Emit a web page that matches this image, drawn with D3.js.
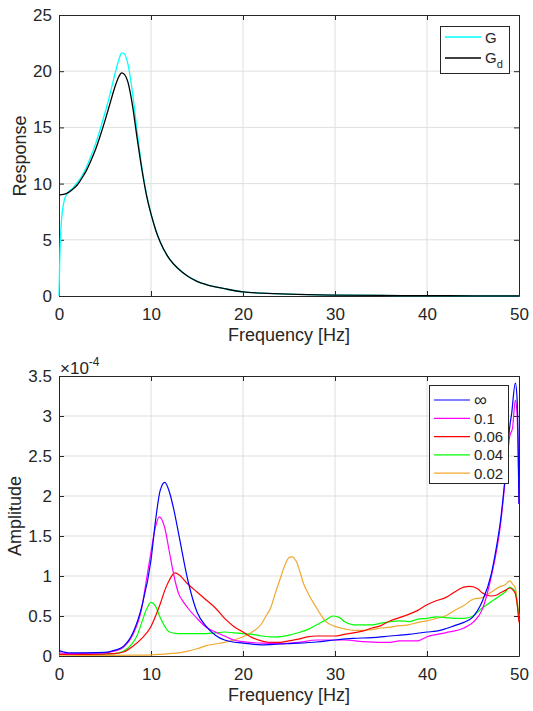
<!DOCTYPE html>
<html>
<head>
<meta charset="utf-8">
<script src="https://cdn.jsdelivr.net/npm/d3@7"></script>
<style>
  body { margin: 0; background: #fff; }
  text { font-family: "Liberation Sans", Arial, sans-serif; fill: #262626; }
</style>
</head>
<body>
<div id="chart"></div>
<script>
// ---- top panel data (Response vs Frequency) ----
const freqG  = [0, 0.05, 0.1, 0.2, 0.3, 0.45, 0.6, 0.8, 1, 1.5, 2, 2.5, 3, 3.5, 4, 4.5, 5, 5.5, 6, 6.5, 6.8, 7, 7.5, 8, 8.5, 9, 9.5, 10, 10.5, 11, 12, 13, 14, 15, 16, 17, 18, 20, 22, 25, 30, 35, 40, 45, 50];
const valG   = [0, 2, 3.8, 5.8, 7.0, 8.0, 8.6, 9.0, 9.25, 9.6, 10.1, 10.7, 11.5, 12.5, 13.6, 14.9, 16.3, 17.8, 19.5, 21.0, 21.6, 21.6, 20.6, 18.0, 14.6, 11.5, 9.1, 7.3, 5.9, 4.8, 3.3, 2.4, 1.75, 1.3, 1.02, 0.82, 0.65, 0.36, 0.26, 0.16, 0.08, 0.05, 0.03, 0.02, 0.015];
const freqGd = [0, 0.5, 1, 1.5, 2, 2.5, 3, 3.5, 4, 4.5, 5, 5.5, 6, 6.5, 6.8, 7, 7.5, 8, 8.5, 9, 9.5, 10, 10.5, 11, 12, 13, 14, 15, 16, 17, 18, 20, 22, 25, 30, 35, 40, 45, 50];
const valGd  = [9.0, 9.05, 9.2, 9.5, 9.9, 10.5, 11.2, 12.1, 13.1, 14.3, 15.6, 17.0, 18.4, 19.5, 19.85, 19.8, 19.0, 16.9, 14.0, 11.3, 9.0, 7.3, 5.9, 4.8, 3.3, 2.4, 1.75, 1.3, 1.02, 0.82, 0.65, 0.36, 0.26, 0.16, 0.08, 0.05, 0.03, 0.02, 0.015];

// ---- bottom panel data (Amplitude x1e-4 vs Frequency) ----
const freqInf = [0, 0.5, 1, 3, 5, 6, 7, 8, 9, 10, 10.5, 11, 11.5, 12, 12.5, 13, 14, 15, 16, 17, 18, 20, 22, 24, 26, 28, 30, 32, 34, 36, 38, 40, 41, 42, 43, 44, 45, 46, 47, 47.5, 48, 48.5, 49, 49.2, 49.6, 49.8, 50];
const ampInf  = [0.067, 0.05, 0.04, 0.04, 0.045, 0.07, 0.12, 0.28, 0.62, 1.2, 1.7, 2.07, 2.17, 2.05, 1.82, 1.53, 0.95, 0.55, 0.37, 0.26, 0.2, 0.16, 0.14, 0.15, 0.16, 0.175, 0.2, 0.22, 0.23, 0.25, 0.27, 0.3, 0.31, 0.34, 0.38, 0.42, 0.49, 0.68, 1.03, 1.33, 1.7, 2.24, 2.87, 3.03, 3.41, 3.2, 1.9];
const freq01  = [0, 0.5, 1, 3, 5, 6, 7, 8, 9, 9.5, 10, 10.5, 10.9, 11.5, 12, 12.5, 13, 13.5, 14, 15, 16, 17, 18, 19, 20, 22, 24, 26, 28, 30, 31, 33, 35, 36, 37, 39, 40, 42, 44, 45, 46, 47, 48, 48.5, 49, 49.3, 49.6, 49.8, 50];
const amp01   = [0.04, 0.035, 0.03, 0.035, 0.04, 0.06, 0.11, 0.26, 0.6, 0.95, 1.3, 1.62, 1.74, 1.6, 1.3, 1.0, 0.78, 0.68, 0.6, 0.47, 0.36, 0.3, 0.25, 0.2, 0.18, 0.16, 0.155, 0.17, 0.2, 0.2, 0.2, 0.18, 0.17, 0.17, 0.19, 0.19, 0.24, 0.29, 0.35, 0.42, 0.58, 1.0, 1.65, 2.2, 2.75, 2.85, 3.2, 3.0, 1.9];
const freq006 = [0, 3, 6, 7, 8, 9, 10, 10.5, 11, 11.5, 12, 12.6, 13, 14, 15, 16, 17, 18, 19, 20, 21, 22, 23, 24, 25, 26, 27, 28, 30, 31, 32, 33, 34, 35, 36, 37, 38, 39, 40, 41, 42, 43, 44, 44.7, 45.5, 46, 46.5, 47, 47.5, 48, 48.5, 49, 49.3, 49.6, 49.8, 50];
const amp006  = [0.02, 0.02, 0.03, 0.05, 0.12, 0.22, 0.37, 0.5, 0.65, 0.82, 0.95, 1.04, 1.02, 0.9, 0.8, 0.7, 0.6, 0.47, 0.37, 0.3, 0.23, 0.19, 0.17, 0.17, 0.19, 0.21, 0.24, 0.25, 0.25, 0.27, 0.29, 0.31, 0.35, 0.38, 0.44, 0.48, 0.52, 0.57, 0.64, 0.69, 0.73, 0.8, 0.86, 0.87, 0.84, 0.79, 0.76, 0.75, 0.76, 0.79, 0.82, 0.85, 0.83, 0.78, 0.65, 0.42];
const freq004 = [0, 3, 6, 7, 8, 8.5, 9, 9.5, 10, 10.5, 11, 11.5, 12, 13, 14, 16, 17, 18, 19, 20, 21, 22, 23, 24, 25, 26, 27, 28, 29, 29.8, 30.5, 31, 32, 33, 34, 35, 36, 37, 38, 39, 40, 41, 42, 43, 44, 45, 46, 47, 48, 48.5, 49, 49.3, 49.6, 49.8, 50];
const amp004  = [0.025, 0.02, 0.03, 0.06, 0.16, 0.26, 0.42, 0.58, 0.67, 0.62, 0.48, 0.37, 0.3, 0.28, 0.28, 0.28, 0.29, 0.3, 0.29, 0.28, 0.27, 0.25, 0.24, 0.24, 0.26, 0.29, 0.33, 0.39, 0.45, 0.5, 0.48, 0.43, 0.39, 0.39, 0.39, 0.41, 0.43, 0.44, 0.43, 0.46, 0.47, 0.49, 0.48, 0.47, 0.47, 0.5, 0.6, 0.68, 0.76, 0.8, 0.86, 0.84, 0.8, 0.65, 0.45];
const freq002 = [0, 4, 8, 10, 12, 13, 14, 15, 16, 17, 18, 19, 20, 21, 22, 22.5, 23, 23.5, 24, 24.5, 25, 25.3, 25.8, 26.2, 26.6, 27, 28, 29, 30, 31, 32, 33, 34, 35, 36, 37, 38, 39, 40, 41, 42, 43, 44, 45, 46, 47, 48, 48.5, 49, 49.3, 49.6, 49.8, 50];
const amp002  = [0.01, 0.008, 0.01, 0.015, 0.03, 0.04, 0.06, 0.09, 0.13, 0.15, 0.17, 0.2, 0.24, 0.3, 0.4, 0.5, 0.6, 0.78, 0.95, 1.12, 1.23, 1.24, 1.18, 1.05, 0.9, 0.8, 0.6, 0.43, 0.37, 0.34, 0.32, 0.32, 0.33, 0.35, 0.36, 0.38, 0.39, 0.42, 0.44, 0.47, 0.5, 0.57, 0.63, 0.71, 0.73, 0.8, 0.87, 0.89, 0.94, 0.9, 0.85, 0.7, 0.5];

const legendLabels = ["\u221E", "0.1", "0.06", "0.04", "0.02"];
const lineColors = ["#0000ff", "#ff00ff", "#ff0000", "#00ff00", "#f0a830"];
const xTicks = [0, 10, 20, 30, 40, 50];
const yTicksTop = [0, 5, 10, 15, 20, 25];
const yTicksBot = [0, 0.5, 1, 1.5, 2, 2.5, 3, 3.5];

const width = 533, height = 711;
const svg = d3.select("#chart").append("svg")
  .attr("width", width).attr("height", height);

const left = 59, right = 519;

function panel(top, bottom, yMax, yTicks, yFmt) {
  const x = d3.scaleLinear().domain([0, 50]).range([left, right]);
  const y = d3.scaleLinear().domain([0, yMax]).range([bottom, top]);
  const g = svg.append("g");
  // grid
  g.append("g").selectAll("line").data(xTicks.slice(1, -1)).join("line")
    .attr("x1", d => x(d)).attr("x2", d => x(d))
    .attr("y1", top).attr("y2", bottom)
    .attr("stroke", "#dfdfdf").attr("stroke-width", 1);
  g.append("g").selectAll("line").data(yTicks.slice(1, -1)).join("line")
    .attr("y1", d => y(d)).attr("y2", d => y(d))
    .attr("x1", left).attr("x2", right)
    .attr("stroke", "#dfdfdf").attr("stroke-width", 1);
  // axes, inward ticks on all sides
  const axB = g.append("g").attr("transform", `translate(0,${bottom})`)
    .call(d3.axisBottom(x).tickValues(xTicks).tickSizeInner(-5).tickSizeOuter(0).tickPadding(12));
  const axT = g.append("g").attr("transform", `translate(0,${top})`)
    .call(d3.axisTop(x).tickValues(xTicks).tickSizeInner(-5).tickSizeOuter(0).tickFormat(""));
  const axL = g.append("g").attr("transform", `translate(${left},0)`)
    .call(d3.axisLeft(y).tickValues(yTicks).tickSizeInner(-5).tickSizeOuter(0).tickPadding(7).tickFormat(yFmt));
  const axR = g.append("g").attr("transform", `translate(${right},0)`)
    .call(d3.axisRight(y).tickValues(yTicks).tickSizeInner(-5).tickSizeOuter(0).tickFormat(""));
  [axB, axT, axL, axR].forEach(a => {
    a.select(".domain").attr("stroke", "#262626");
    a.selectAll(".tick line").attr("stroke", "#262626");
    a.selectAll(".tick text").attr("font-size", 17).attr("fill", "#262626")
      .attr("font-family", "Liberation Sans, Arial, sans-serif");
  });
  return { x, y, g };
}

// ---- top panel ----
const p1 = panel(15, 296, 25, yTicksTop, d3.format("d"));
const line1 = d3.line().x(d => p1.x(d[0])).y(d => p1.y(d[1])).curve(d3.curveMonotoneX);
p1.g.append("path").datum(d3.zip(freqG, valG))
  .attr("d", line1).attr("fill", "none").attr("stroke", "#00ffff").attr("stroke-width", 1.3);
p1.g.append("path").datum(d3.zip(freqGd, valGd))
  .attr("d", line1).attr("fill", "none").attr("stroke", "#000").attr("stroke-width", 1.3);

svg.append("text").attr("x", 289).attr("y", 341).attr("text-anchor", "middle")
  .attr("font-size", 18).text("Frequency [Hz]");
svg.append("text").attr("transform", "translate(26,156) rotate(-90)").attr("text-anchor", "middle")
  .attr("font-size", 18).text("Response");

// top legend
const lg1 = svg.append("g");
lg1.append("rect").attr("x", 440.5).attr("y", 26.5).attr("width", 69).attr("height", 47)
  .attr("fill", "#fff").attr("stroke", "#262626");
lg1.append("line").attr("x1", 445).attr("x2", 481).attr("y1", 37).attr("y2", 37)
  .attr("stroke", "#00ffff").attr("stroke-width", 1.3);
lg1.append("line").attr("x1", 445).attr("x2", 481).attr("y1", 58).attr("y2", 58)
  .attr("stroke", "#000").attr("stroke-width", 1.3);
lg1.append("text").attr("x", 485).attr("y", 42.5).attr("font-size", 15).text("G");
const gd = lg1.append("text").attr("x", 485).attr("y", 63).attr("font-size", 15).text("G");
gd.append("tspan").attr("font-size", 11).attr("dy", 5).text("d");

// ---- bottom panel ----
const p2 = panel(376, 656, 3.5, yTicksBot, d => d === 0 ? "0" : d3.format("")(d));
const line2 = d3.line().x(d => p2.x(d[0])).y(d => p2.y(d[1])).curve(d3.curveMonotoneX);
const series = [
  d3.zip(freqInf, ampInf),
  d3.zip(freq01, amp01),
  d3.zip(freq006, amp006),
  d3.zip(freq004, amp004),
  d3.zip(freq002, amp002)
];
// draw back-to-front so blue/magenta end on top as in the reference
[4, 3, 2, 1, 0].forEach(i => {
  p2.g.append("path").datum(series[i])
    .attr("d", line2).attr("fill", "none")
    .attr("stroke", lineColors[i]).attr("stroke-width", 1.2);
});

const expo = svg.append("text").attr("x", 60).attr("y", 374).attr("font-size", 17).text("\u00D710");
expo.append("tspan").attr("font-size", 12).attr("dy", -8).text("-4");

svg.append("text").attr("x", 289).attr("y", 701).attr("text-anchor", "middle")
  .attr("font-size", 18).text("Frequency [Hz]");
svg.append("text").attr("transform", "translate(21,516) rotate(-90)").attr("text-anchor", "middle")
  .attr("font-size", 18).text("Amplitude");

// bottom legend
const lg2 = svg.append("g");
lg2.append("rect").attr("x", 429.5).attr("y", 385.5).attr("width", 79).attr("height", 98)
  .attr("fill", "#fff").attr("stroke", "#262626");
legendLabels.forEach((lab, i) => {
  const yy = 400 + i * 18.3;
  lg2.append("line").attr("x1", 434).attr("x2", 470).attr("y1", yy).attr("y2", yy)
    .attr("stroke", lineColors[i]).attr("stroke-width", 1.2);
  lg2.append("text").attr("x", 474).attr("y", yy + 5.5).attr("font-size", i === 0 ? 18 : 15).text(lab);
});
</script>
</body>
</html>
